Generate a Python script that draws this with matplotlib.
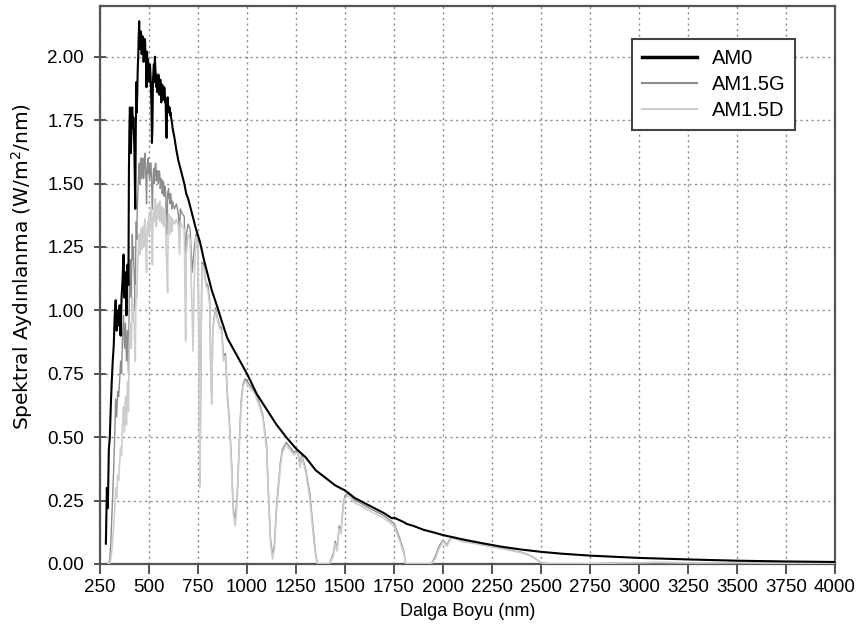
import matplotlib
matplotlib.use("Agg")
import matplotlib.pyplot as plt
from matplotlib.lines import Line2D

# ---------------- data ----------------
am0_wl = [280, 285, 290, 295, 300, 305, 310, 315, 320, 325, 330, 335, 340, 345, 350, 355,
          360, 365, 370, 375, 380, 385, 390, 395, 397.5,
          400, 402.5, 405, 407.5, 410, 412.5, 415, 417.5, 420, 422.5, 425, 427.5, 430, 432.5,
          435, 437.5, 440, 442.5, 445, 447.5, 450, 452.5, 455, 457.5, 460, 462.5, 465, 467.5,
          470, 472.5, 475, 477.5, 480, 482.5, 485, 487.5, 490, 492.5, 495, 497.5, 500, 502.5,
          505, 507.5, 510, 512.5, 515, 517.5, 520, 522.5, 525, 527.5, 530, 532.5, 535, 537.5,
          540, 542.5, 545, 547.5, 550, 552.5, 555, 557.5, 560, 562.5, 565, 567.5, 570, 572.5,
          575, 577.5, 580, 582.5, 585, 587.5, 590, 592.5, 595, 597.5, 600, 602.5, 605, 607.5,
          610, 612.5, 615, 617.5, 620, 630, 640, 650, 660, 670, 680, 690, 700, 720, 740, 760,
          780, 800, 820, 850, 870, 900, 950, 1000, 1050, 1100, 1150, 1200, 1250, 1300, 1350,
          1400, 1450, 1500, 1550, 1600, 1650, 1700, 1740, 1750, 1800, 1815, 1850, 1900,
          1950, 2000, 2100, 2200, 2300, 2400, 2500, 2600, 2750, 3000, 3250, 3500, 3750, 4000]
am0_val = [0.08, 0.30, 0.22, 0.45, 0.50, 0.62, 0.72, 0.80, 0.86, 0.98, 1.04, 0.92, 1.00, 0.94, 1.02, 0.90,
           1.05, 1.12, 1.22, 1.05, 1.15, 0.98, 1.18, 1.10, 1.55,
           1.72, 1.80, 1.74, 1.62, 1.70, 1.79, 1.80, 1.72, 1.76, 1.70, 1.65, 1.52, 1.40, 1.70,
           1.90, 1.78, 1.85, 1.95, 2.00, 2.08, 2.14, 2.03, 2.05, 2.10, 2.09, 2.01, 2.04, 2.08,
           2.07, 1.98, 2.02, 2.07, 2.06, 2.00, 1.97, 1.88, 2.02, 1.96, 1.99, 1.92, 1.94, 1.90,
           1.97, 1.93, 1.88, 1.80, 1.66, 1.72, 1.90, 1.94, 1.97, 1.90, 2.00, 1.95, 1.93, 1.88,
           1.91, 1.86, 1.88, 1.93, 1.92, 1.85, 1.87, 1.91, 1.89, 1.82, 1.85, 1.89, 1.88, 1.83,
           1.84, 1.88, 1.87, 1.82, 1.83, 1.70, 1.68, 1.80, 1.84, 1.81, 1.80, 1.78, 1.80, 1.77,
           1.78, 1.76, 1.75, 1.74, 1.72, 1.68, 1.63, 1.59, 1.56, 1.53, 1.50, 1.46, 1.44, 1.38, 1.32, 1.27,
           1.20, 1.14, 1.08, 1.01, 0.96, 0.89, 0.82, 0.75, 0.67, 0.61, 0.55, 0.50, 0.455, 0.42, 0.37,
           0.34, 0.31, 0.29, 0.26, 0.24, 0.22, 0.20, 0.180, 0.183, 0.165, 0.158, 0.150, 0.135,
           0.125, 0.114, 0.097, 0.082, 0.068, 0.057, 0.048, 0.041, 0.033, 0.024, 0.018, 0.013, 0.010, 0.008]

g_wl = [290, 295, 300, 305, 310, 315, 320, 325, 330, 335, 340, 345, 350, 355, 360, 365, 370,
        375, 380, 385, 390, 395,
        400, 402.5, 405, 407.5, 410, 412.5, 415, 417.5, 420, 422.5, 425, 427.5, 430, 432.5,
        435, 437.5, 440, 442.5, 445, 447.5, 450, 452.5, 455, 457.5, 460, 462.5, 465, 467.5,
        470, 472.5, 475, 477.5, 480, 482.5, 485, 487.5, 490, 492.5, 495, 497.5, 500, 502.5,
        505, 507.5, 510, 512.5, 515, 517.5, 520, 522.5, 525, 527.5, 530, 532.5, 535, 537.5,
        540, 542.5, 545, 547.5, 550, 552.5, 555, 557.5, 560, 562.5, 565, 567.5, 570, 572.5,
        575, 577.5, 580, 582.5, 585, 587.5, 590, 592.5, 595, 597.5, 600, 602.5, 605, 607.5,
        610, 612.5, 615, 617.5, 620, 630, 640, 650, 656, 660, 670, 680, 687, 690, 700, 710,
        720, 730, 740, 750, 760, 765, 770, 780, 790, 800, 810, 815, 820, 825, 830, 840, 850,
        860, 870, 880, 890, 900, 910, 920, 930, 940, 950, 960, 970, 980, 990, 1000, 1020,
        1040, 1060, 1080, 1100, 1110, 1120, 1130, 1140, 1150, 1160, 1170, 1180, 1200, 1220,
        1240, 1260, 1270, 1280, 1300, 1320, 1340, 1350, 1360, 1420, 1440, 1450, 1460, 1470,
        1480, 1490, 1500, 1520, 1550, 1580, 1600, 1650, 1700, 1750, 1780, 1800, 1810, 1940,
        1960, 1980, 2000, 2020, 2040, 2060, 2100, 2150, 2200, 2250, 2300, 2350, 2400, 2450,
        2480, 2500, 2550, 2700, 2900, 3100, 3300, 3500, 3700, 4000]
g_val = [0.0, 0.0, 0.02, 0.08, 0.18, 0.28, 0.38, 0.50, 0.65, 0.58, 0.68, 0.66, 0.72, 0.80, 0.75, 0.90, 0.98,
         0.85, 0.95, 0.80, 0.92, 0.75,
         1.10, 1.18, 1.20, 1.08, 1.05, 1.22, 1.30, 1.20, 1.25, 1.18, 1.15, 1.05, 1.00, 1.25,
         1.35, 1.28, 1.40, 1.45, 1.50, 1.55, 1.58, 1.50, 1.55, 1.60, 1.60, 1.52, 1.55, 1.60,
         1.59, 1.52, 1.57, 1.61, 1.62, 1.56, 1.50, 1.42, 1.55, 1.58, 1.60, 1.54, 1.57, 1.52,
         1.54, 1.58, 1.58, 1.52, 1.45, 1.40, 1.50, 1.55, 1.56, 1.50, 1.55, 1.58, 1.58, 1.51,
         1.52, 1.55, 1.55, 1.50, 1.53, 1.55, 1.54, 1.48, 1.50, 1.52, 1.51, 1.46, 1.48, 1.51,
         1.50, 1.45, 1.49, 1.48, 1.47, 1.38, 1.35, 1.30, 1.46, 1.47, 1.48, 1.44, 1.46, 1.42,
         1.46, 1.44, 1.43, 1.40, 1.43, 1.40, 1.42, 1.38, 1.30, 1.40, 1.38, 1.37, 1.05, 1.30, 1.34, 1.32,
         1.15, 1.24, 1.30, 1.26, 0.32, 0.81, 1.19, 1.18, 1.11, 1.10, 1.04, 0.77, 0.65, 0.91, 0.96, 1.01, 0.97,
         0.94, 0.93, 0.82, 0.83, 0.67, 0.57, 0.42, 0.22, 0.17, 0.27, 0.47, 0.64, 0.71, 0.73, 0.72, 0.70,
         0.68, 0.64, 0.59, 0.47, 0.27, 0.10, 0.03, 0.08, 0.22, 0.31, 0.40, 0.45, 0.48, 0.46,
         0.44, 0.45, 0.39, 0.43, 0.37, 0.28, 0.12, 0.04, 0.0, 0.0, 0.04, 0.09, 0.06, 0.15,
         0.13, 0.23, 0.27, 0.28, 0.25, 0.24, 0.23, 0.21, 0.19, 0.16, 0.10, 0.05, 0.0, 0.0,
         0.03, 0.07, 0.095, 0.075, 0.105, 0.105, 0.09, 0.085, 0.078, 0.07, 0.062, 0.054, 0.046, 0.032,
         0.017, 0.006, 0.0, 0.0, 0.004, 0.006, 0.004, 0.005, 0.003, 0.0]

d_wl = [290, 300, 305, 310, 315, 320, 325, 330, 335, 340, 345, 350, 355, 360, 365, 370, 375,
        380, 385, 390, 395,
        400, 402.5, 405, 407.5, 410, 412.5, 415, 417.5, 420, 422.5, 425, 427.5, 430, 432.5,
        435, 437.5, 440, 442.5, 445, 447.5, 450, 452.5, 455, 457.5, 460, 462.5, 465, 467.5,
        470, 472.5, 475, 477.5, 480, 482.5, 485, 487.5, 490, 492.5, 495, 497.5, 500, 502.5,
        505, 507.5, 510, 512.5, 515, 517.5, 520, 522.5, 525, 527.5, 530, 532.5, 535, 537.5,
        540, 542.5, 545, 547.5, 550, 552.5, 555, 557.5, 560, 562.5, 565, 567.5, 570, 572.5,
        575, 577.5, 580, 582.5, 585, 587.5, 590, 592.5, 595, 597.5, 600, 602.5, 605, 607.5,
        610, 612.5, 615, 617.5, 620, 630, 640, 650, 656, 660, 670, 680, 687, 690, 700, 710,
        725, 730, 740, 750, 760, 765, 770, 780, 790, 800, 810, 815, 820, 825, 830, 840, 850,
        860, 870, 880, 890, 900, 910, 920, 930, 940, 950, 960, 970, 980, 990, 1000, 1020,
        1040, 1060, 1080, 1100, 1110, 1120, 1130, 1140, 1150, 1160, 1170, 1180, 1200, 1220,
        1240, 1260, 1270, 1280, 1300, 1320, 1340, 1350, 1360, 1420, 1440, 1450, 1460, 1470,
        1480, 1490, 1500, 1520, 1550, 1580, 1600, 1650, 1700, 1750, 1780, 1800, 1810, 1940,
        1960, 1980, 2000, 2020, 2040, 2060, 2100, 2150, 2200, 2250, 2300, 2350, 2400, 2450,
        2480, 2500, 2550, 2700, 2900, 3100, 3300, 3500, 3700, 4000]
d_val = [0.0, 0.0, 0.02, 0.05, 0.10, 0.15, 0.22, 0.30, 0.26, 0.35, 0.33, 0.40, 0.46, 0.43, 0.55, 0.62, 0.52,
         0.66, 0.55, 0.72, 0.60,
         0.88, 0.92, 0.95, 0.86, 0.85, 0.98, 1.05, 0.96, 1.02, 0.96, 0.95, 0.86, 0.80, 1.00,
         1.10, 1.05, 1.12, 1.18, 1.22, 1.27, 1.30, 1.22, 1.25, 1.31, 1.32, 1.24, 1.28, 1.33,
         1.33, 1.25, 1.30, 1.35, 1.36, 1.30, 1.22, 1.15, 1.30, 1.33, 1.35, 1.30, 1.38, 1.32,
         1.33, 1.38, 1.40, 1.34, 1.25, 1.18, 1.36, 1.39, 1.40, 1.35, 1.42, 1.44, 1.40, 1.33,
         1.38, 1.41, 1.42, 1.36, 1.40, 1.42, 1.43, 1.35, 1.38, 1.41, 1.41, 1.34, 1.37, 1.40,
         1.40, 1.33, 1.39, 1.38, 1.36, 1.22, 1.20, 1.12, 1.07, 1.30, 1.38, 1.35, 1.37, 1.30,
         1.37, 1.35, 1.36, 1.31, 1.36, 1.34, 1.36, 1.33, 1.22, 1.35, 1.33, 1.32, 0.88, 1.22, 1.30, 1.28,
         0.84, 1.10, 1.29, 1.25, 0.30, 0.80, 1.18, 1.17, 1.10, 1.08, 1.02, 0.75, 0.63, 0.90, 0.95, 1.00, 0.96,
         0.93, 0.92, 0.80, 0.82, 0.65, 0.55, 0.40, 0.20, 0.15, 0.25, 0.45, 0.62, 0.70, 0.72, 0.71, 0.69,
         0.67, 0.63, 0.58, 0.45, 0.25, 0.08, 0.02, 0.06, 0.20, 0.29, 0.38, 0.44, 0.47, 0.45,
         0.43, 0.44, 0.38, 0.42, 0.36, 0.26, 0.10, 0.03, 0.0, 0.0, 0.03, 0.08, 0.05, 0.14,
         0.12, 0.22, 0.26, 0.27, 0.24, 0.23, 0.22, 0.20, 0.18, 0.15, 0.09, 0.04, 0.0, 0.0,
         0.02, 0.06, 0.09, 0.07, 0.10, 0.10, 0.088, 0.082, 0.075, 0.068, 0.06, 0.052, 0.044, 0.03,
         0.015, 0.005, 0.0, 0.0, 0.004, 0.006, 0.004, 0.005, 0.003, 0.0]

series_labels = ["AM0", "AM1.5G", "AM1.5D"]
x_ticks = [250, 500, 750, 1000, 1250, 1500, 1750, 2000, 2250, 2500, 2750, 3000, 3250, 3500, 3750, 4000]
y_ticks = [0.00, 0.25, 0.50, 0.75, 1.00, 1.25, 1.50, 1.75, 2.00]
x_label = "Dalga Boyu (nm)"
y_label = "Spektral Aydınlanma (W/m$^2$/nm)"

# ---------------- styling ----------------
plt.rcParams["mathtext.fontset"] = "dejavusans"
tick_font = "Liberation Sans"

W, H = 859, 635
fig = plt.figure(figsize=(W / 100, H / 100), dpi=100)
ax = fig.add_axes([100 / W, 1 - 564 / H, 735 / W, 558 / H])

ax.plot(g_wl, g_val, color="#8c8c8c", lw=1.0, zorder=3)
ax.plot(d_wl, d_val, color="#cdcdcd", lw=1.2, zorder=4)
ax.plot(am0_wl, am0_val, color="#000000", lw=1.5, zorder=5)

ax.set_xlim(250, 4000)
ax.set_ylim(0, 2.2)
ax.set_xticks(x_ticks)
ax.set_yticks(y_ticks)
ax.set_xticklabels([str(v) for v in x_ticks], fontfamily=tick_font, fontsize=13.5)
ax.set_yticklabels([f"{v:.2f}" for v in y_ticks], fontfamily=tick_font, fontsize=13.5)
ax.tick_params(axis="x", direction="out", length=7, width=1.3, color="#444444", pad=4)
ax.tick_params(axis="y", direction="inout", length=9, width=1.3, color="#444444", pad=7)

ax.grid(True, color="#8a8a8a", linestyle=(0, (1.5, 2.5)), linewidth=1.0, zorder=1)
ax.set_axisbelow(True)
for sp in ax.spines.values():
    sp.set_color("#555555")
    sp.set_linewidth(1.6)

ax.set_xlabel(x_label, fontfamily=tick_font, fontsize=13, labelpad=5)
ax.set_ylabel(y_label, fontfamily="DejaVu Sans", fontsize=14.5)
ax.yaxis.set_label_coords(-0.089, (564 - 266) / 558)

handles = [Line2D([], [], color="#000000", lw=2.5),
           Line2D([], [], color="#8c8c8c", lw=1.5),
           Line2D([], [], color="#cdcdcd", lw=1.5)]
leg = ax.legend(handles, series_labels, loc="upper left",
                bbox_to_anchor=(632 / W, 1 - 39 / H), bbox_transform=fig.transFigure,
                borderaxespad=0, frameon=True, fancybox=False, framealpha=1,
                prop={"family": "Liberation Sans", "size": 14.5}, handlelength=2.75,
                handletextpad=0.7, labelspacing=0.35, borderpad=0.5)
leg.get_frame().set_edgecolor("#444444")
leg.get_frame().set_linewidth(1.5)
leg.set_zorder(10)

fig.savefig("out.png", dpi=100)
